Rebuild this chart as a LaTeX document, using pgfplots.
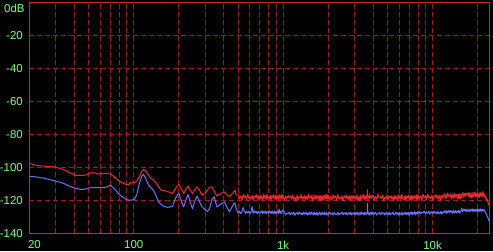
\documentclass[border=0pt]{standalone}
\usepackage{pgfplots}
\pgfplotsset{compat=1.18}
\usepackage{pgfplotstable}
\usepackage{fontspec}
\setmainfont{Liberation Sans}
\definecolor{gridc}{RGB}{155,28,28}
\definecolor{borderc}{RGB}{205,40,40}
\definecolor{labg}{RGB}{128,255,128}
\definecolor{redtr}{RGB}{240,38,38}
\definecolor{bluetr}{RGB}{112,112,255}
\pgfplotstableread{
f r b
20 -97.5 -105.3
22 -98.6 -105.7
25 -99.2 -106.5
29.6 -99.6 -108.2
32 -100.5 -108.9
34.6 -101.6 -110.0
37.5 -103.2 -111.5
40.3 -104.7 -112.5
44 -104.8 -113.3
47 -104.7 -113.2
50 -103.8 -112.5
52 -103.1 -112.2
55 -103.3 -112.2
57.6 -104.0 -112.2
61 -103.6 -112.2
64 -103.5 -112.2
67 -103.6 -111.6
70 -104.0 -110.8
74 -105.5 -112.8
78 -107.7 -115.3
83 -109.0 -117.5
88.8 -110.4 -119.3
93 -110.2 -119.9
96.3 -109.0 -119.8
100.9 -109.3 -119.5
105 -108.0 -116.5
109 -105.7 -109.7
113 -102.5 -105.5
116.3 -101.2 -104.1
120 -102.0 -106.5
124 -104.0 -109.7
128 -105.7 -111.5
132 -107.0 -112.8
136 -107.7 -114.0
140 -109.0 -116.5
146 -111.5 -120.5
152.6 -113.8 -122.5
160 -114.0 -123.7
168.5 -114.8 -124.2
175 -115.0 -124.0
182 -115.8 -123.5
190 -113.0 -119.0
197 -110.8 -116.3
201 -110.2 -115.8
208 -113.0 -120.5
216 -115.8 -124.0
224 -113.0 -119.5
231 -111.4 -116.4
238 -113.5 -120.5
247 -115.8 -125.0
256 -113.5 -120.5
266 -111.8 -117.4
276 -114.0 -121.0
287 -116.8 -124.0
300 -116.0 -125.5
312 -113.5 -126.8
322 -112.0 -125.0
334 -111.8 -119.5
346 -114.5 -117.8
360 -117.4 -124.0
380 -116.0 -122.5
404 -114.8 -120.9
420 -116.5 -124.0
437 -117.8 -127.0
455 -116.0 -124.0
471 -114.5 -121.5
477 -113.8 -121.9
485 -116.5 -125.0
500 -116.7 -127.8
510 -119.1 -126.4
520 -117.5 -128.1
530 -119.8 -126.9
540 -116.4 -124.4
550 -118.4 -126.3
560 -117.1 -128.0
570 -119.5 -126.7
580 -116.2 -127.6
590 -118.7 -126.5
600 -117.8 -128.2
610 -119.3 -127.0
620 -116.9 -123.8
630 -119.9 -127.9
640 -117.4 -126.3
650 -118.2 -127.5
660 -116.5 -126.8
670 -119.0 -128.1
680 -117.2 -126.5
690 -119.6 -127.7
700 -116.7 -126.9
710 -119.1 -127.4
720 -117.5 -126.3
730 -119.8 -128.0
740 -116.4 -126.7
750 -118.4 -127.6
760 -117.1 -126.5
770 -119.5 -128.2
780 -116.2 -127.0
790 -118.7 -126.6
800 -117.8 -127.9
810 -119.3 -126.3
820 -116.9 -127.5
830 -119.9 -126.8
840 -117.4 -128.1
850 -118.2 -126.5
860 -116.5 -127.7
870 -119.0 -127.8
880 -117.2 -126.4
890 -119.6 -128.1
900 -116.7 -126.9
910 -119.1 -127.4
920 -117.5 -126.3
930 -119.8 -128.0
940 -116.4 -125.2
950 -118.4 -127.6
960 -117.1 -126.5
970 -119.5 -128.2
980 -116.2 -127.0
990 -118.7 -126.6
1000 -116.9 -125.6
1020 -120.0 -127.2
1040 -117.3 -128.9
1060 -118.9 -127.7
1080 -117.1 -128.2
1100 -118.4 -127.1
1120 -117.4 -128.8
1140 -119.3 -127.5
1160 -116.6 -128.4
1180 -119.7 -127.3
1200 -118.0 -129.0
1220 -120.1 -127.8
1240 -116.7 -127.4
1260 -119.8 -128.7
1280 -117.7 -127.1
1300 -118.6 -128.3
1320 -116.4 -127.6
1340 -119.5 -128.9
1360 -117.6 -127.3
1380 -119.2 -128.5
1400 -116.9 -127.5
1420 -119.7 -128.4
1440 -117.6 -127.3
1460 -119.3 -129.0
1480 -116.4 -127.8
1500 -118.4 -127.4
1520 -117.7 -128.7
1540 -118.9 -127.1
1560 -116.7 -128.3
1580 -120.0 -127.6
1600 -118.0 -128.9
1620 -119.2 -127.3
1640 -116.6 -128.5
1660 -119.5 -128.6
1680 -117.4 -127.2
1700 -118.6 -128.9
1720 -117.1 -127.7
1740 -119.8 -128.2
1760 -117.3 -127.1
1780 -120.1 -128.8
1800 -116.9 -128.7
1820 -119.3 -127.1
1840 -117.7 -128.3
1860 -120.0 -127.6
1880 -116.6 -128.9
1900 -118.6 -127.3
1920 -117.3 -128.5
1940 -119.7 -128.6
1960 -116.4 -127.2
1980 -118.9 -128.9
2000 -116.9 -128.7
2040 -119.3 -127.1
2080 -117.7 -128.3
2120 -120.0 -127.6
2160 -116.6 -128.9
2200 -118.6 -127.3
2240 -117.3 -128.5
2280 -119.7 -128.6
2320 -116.4 -127.2
2360 -118.9 -128.9
2400 -118.0 -127.7
2440 -119.5 -128.2
2480 -117.1 -127.1
2520 -120.1 -128.8
2560 -117.6 -127.5
2600 -118.4 -128.4
2640 -116.7 -127.3
2680 -119.2 -129.0
2720 -117.4 -127.8
2760 -119.8 -127.4
2800 -116.9 -128.6
2840 -120.0 -127.2
2880 -117.3 -128.9
2920 -118.9 -127.7
2960 -117.1 -128.2
3000 -118.4 -127.1
3040 -117.4 -128.8
3080 -119.3 -127.5
3120 -116.6 -128.4
3160 -119.7 -127.3
3200 -118.0 -129.0
3240 -120.1 -127.8
3280 -116.7 -127.4
3320 -119.8 -128.7
3360 -117.7 -127.1
3400 -118.6 -128.3
3440 -116.4 -127.6
3480 -119.5 -128.9
3520 -117.6 -127.3
3560 -119.2 -128.5
3600 -116.9 -127.5
3640 -119.7 -128.4
3660 -118.0 -127.8
3670 -113.4 -121.9
3680 -118.5 -128.0
3720 -117.6 -127.3
3760 -119.3 -129.0
3800 -116.4 -127.8
3840 -118.4 -127.4
3880 -117.7 -128.7
3920 -118.9 -127.1
3960 -116.7 -128.3
4000 -116.9 -127.5
4080 -119.7 -128.4
4160 -117.6 -127.3
4240 -119.3 -129.0
4320 -116.4 -127.8
4400 -118.4 -127.4
4480 -117.7 -128.7
4560 -118.9 -127.1
4640 -116.7 -128.3
4720 -120.0 -127.6
4800 -118.0 -128.9
4880 -119.2 -127.3
4960 -116.6 -128.5
5040 -119.5 -128.6
5120 -117.4 -127.2
5200 -118.6 -128.9
5280 -117.1 -127.7
5360 -119.8 -128.2
5440 -117.3 -127.1
5520 -120.1 -128.8
5600 -116.9 -128.7
5680 -119.3 -127.1
5760 -117.7 -128.3
5840 -120.0 -127.6
5920 -116.6 -128.9
6000 -118.6 -127.3
6080 -117.3 -128.5
6160 -119.7 -128.6
6240 -116.4 -127.2
6320 -118.9 -128.9
6400 -118.0 -127.7
6480 -119.5 -128.2
6560 -117.1 -127.1
6640 -120.1 -128.8
6720 -117.6 -127.5
6800 -118.4 -128.4
6880 -116.7 -127.3
6960 -119.2 -129.0
7040 -117.4 -127.8
7120 -119.8 -127.4
7200 -116.9 -128.4
7280 -120.0 -127.0
7360 -117.3 -128.7
7440 -118.9 -127.5
7520 -117.1 -128.0
7600 -118.4 -126.9
7680 -117.4 -128.6
7760 -119.3 -127.3
7840 -116.6 -128.2
7920 -119.7 -127.1
8000 -116.6 -128.0
8160 -119.0 -126.6
8320 -117.4 -128.3
8480 -119.7 -127.1
8640 -116.3 -127.6
8800 -118.3 -126.5
8960 -117.0 -128.2
9120 -119.4 -126.9
9280 -116.1 -127.8
9440 -118.6 -126.7
9600 -117.7 -128.4
9760 -119.2 -127.2
9920 -116.8 -126.8
10080 -119.8 -128.1
10240 -117.3 -126.5
10400 -118.1 -127.7
10560 -116.4 -127.0
10720 -118.9 -128.3
10880 -117.1 -126.7
11040 -119.5 -127.9
11200 -116.6 -128.0
11360 -119.7 -126.6
11520 -117.0 -128.3
11680 -118.6 -127.1
11840 -116.8 -127.6
12000 -116.0 -126.4
12160 -118.8 -127.3
12320 -116.7 -126.2
12480 -118.4 -127.9
12640 -115.5 -126.7
12800 -117.5 -126.3
12960 -116.8 -127.6
13120 -118.0 -126.0
13280 -115.8 -127.2
13440 -119.1 -126.5
13600 -117.1 -127.8
13760 -118.3 -126.2
13920 -115.7 -127.4
14080 -118.6 -127.5
14240 -116.5 -126.1
14400 -117.7 -127.8
14560 -116.2 -126.6
14720 -118.9 -127.1
14880 -116.4 -126.0
15040 -119.2 -127.7
15200 -116.0 -126.4
15360 -118.8 -127.3
15520 -116.7 -126.2
15680 -118.4 -124.7
15840 -115.5 -126.7
16000 -115.3 -126.7
16200 -118.4 -125.1
16400 -115.7 -126.3
16600 -117.3 -125.6
16800 -115.5 -126.9
17000 -116.8 -125.3
17200 -115.8 -126.5
17400 -117.7 -126.6
17600 -115.0 -125.2
17800 -118.1 -126.9
18000 -116.4 -125.7
18200 -118.5 -126.2
18400 -115.1 -125.1
18600 -118.2 -126.8
18800 -116.1 -125.5
19000 -117.0 -126.4
19200 -114.8 -125.3
19400 -117.9 -127.0
19600 -116.0 -125.8
19800 -117.6 -125.4
20000 -115.3 -126.6
20200 -117.7 -125.2
20400 -116.1 -126.9
20600 -118.4 -125.7
20800 -115.0 -126.2
21000 -117.0 -125.1
21200 -115.7 -126.8
21400 -118.1 -125.5
21600 -114.8 -126.4
21800 -117.3 -125.3
22000 -115.6 -126.2
22200 -117.8 -125.6
22400 -116.4 -126.9
22600 -118.6 -127.0
22800 -117.9 -128.0
23000 -119.7 -128.3
23200 -119.4 -129.5
23400 -121.0 -130.0
23600 -121.2 -131.2
23800 -122.6 -131.8
24000 -123.0 -133.0
}\data
\begin{document}
\begin{tikzpicture}[x=1bp,y=1bp]
\fill[black] (-29.3,-17.7) rectangle (463.7,233.3);
\begin{axis}[
  name=ax, at={(0,0)}, anchor=south west,
  scale only axis, width=460bp, height=230.3bp,
  xmode=log, xmin=20, xmax=24000, ymin=-140, ymax=0,
  xtick={20,100,1000,10000},
  xticklabels={\makebox[0pt][l]{\hspace*{-1.2bp}20},100,1k,10k},
  minor xtick={30,40,50,60,70,80,90,200,300,400,500,600,700,800,900,2000,3000,4000,5000,6000,7000,8000,9000,20000},
  ytick={-140,-120,-100,-80,-60,-40,-20,0},
  yticklabels={-140,-120,-100,-80,-60,-40,-20,{}},
  major tick length=0, minor tick length=0,
  xmajorgrids, xminorgrids, ymajorgrids,
  grid style={draw=gridc, line width=1bp, dash pattern=on 5bp off 3bp},
  minor grid style={draw=gridc, line width=1bp, dash pattern=on 5bp off 3bp},
  axis line style={draw=borderc, line width=1bp},
  tick label style={text=labg, font=\fontsize{11.5}{12}\selectfont},
  xticklabel style={yshift=-4bp},
  yticklabel style={xshift=-3bp},
]
\addplot[redtr, line width=1bp, line join=round] table[x=f,y=r] {\data};
\addplot[bluetr, line width=1bp, line join=round] table[x=f,y=b] {\data};
\end{axis}
\node[anchor=north east, inner sep=0pt, text=labg, font=\fontsize{11.5}{12}\selectfont] at ([xshift=-4.5bp,yshift=-1.3bp]ax.north west) {0dB};
\pgfresetboundingbox
\path[use as bounding box] (-29.3,-17.7) rectangle (463.7,233.3);
\end{tikzpicture}
\end{document}
